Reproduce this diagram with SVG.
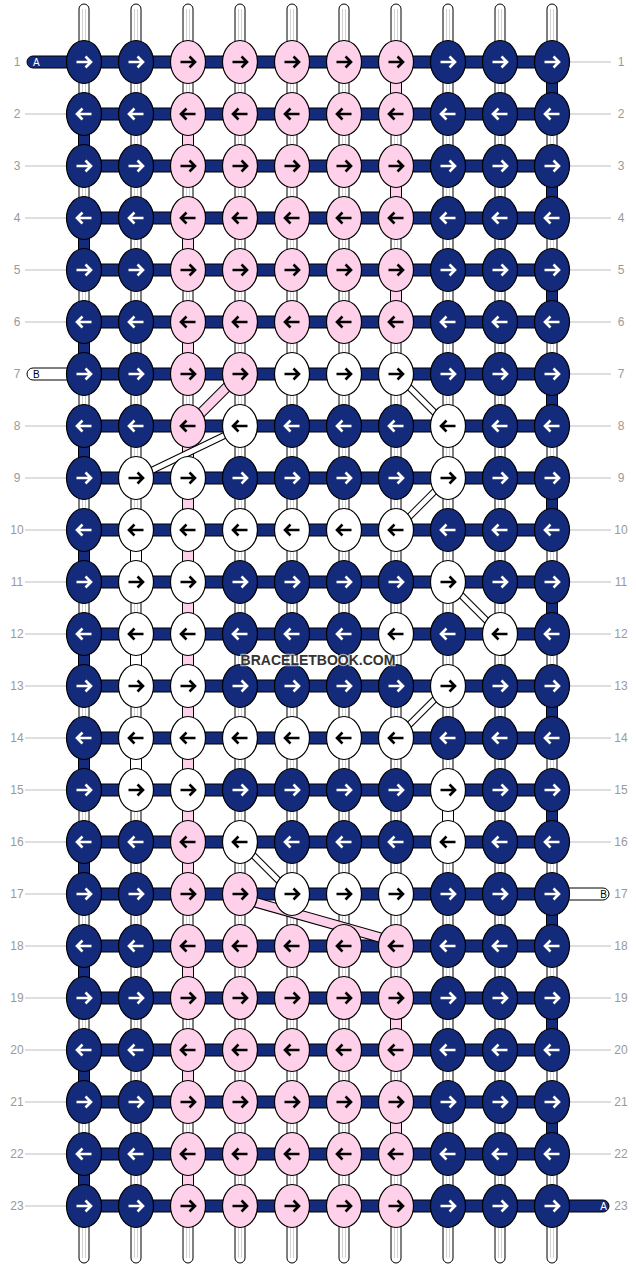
<svg xmlns="http://www.w3.org/2000/svg" width="636" height="1268" viewBox="0 0 636 1268">
<style>
.bg{fill:#fff}
.num{font-family:"Liberation Sans",Arial,sans-serif;font-size:12px;fill:#9a9a9a;text-anchor:middle}
.gl{stroke:#bdbdbd;stroke-width:1}
.warp{fill:#fff;stroke:#000;stroke-width:1}
.stripe{stroke:#d2d2d2;stroke-width:1}
.gn{fill:#142a7a;stroke:#000;stroke-width:1}
.gp{fill:#ffd0e9;stroke:#000;stroke-width:1}
.gw{fill:#fff;stroke:#000;stroke-width:1}
.bar{fill:#142a7a;stroke:#000;stroke-width:1}
.kn{stroke:#000;stroke-width:1.2}
.n{fill:#142a7a}
.p{fill:#ffd0e9}
.w{fill:#fff}
.aw{fill:none;stroke:#fff;stroke-width:2.6}
.ab{fill:none;stroke:#000;stroke-width:2.6}
.dk{stroke:#000;fill:none}
.lbl{font-family:"Liberation Sans",Arial,sans-serif;font-size:10px}
.wm{font-family:"Liberation Sans",Arial,sans-serif;font-size:14px;font-weight:bold;fill:#333;text-anchor:middle;stroke:#fff;stroke-opacity:0.6;stroke-width:2.5;paint-order:stroke;stroke-linejoin:round}
</style>
<defs>
<path id="aR" d="M-7.5,0H6.5M1.5,-5.5L7,0L1.5,5.5"/>
<path id="aL" d="M7.5,0H-6.5M-1.5,-5.5L-7,0L-1.5,5.5"/>
<g id="nR"><ellipse rx="17.5" ry="21.5" class="kn n"/><use href="#aR" class="aw"/></g>
<g id="nL"><ellipse rx="17.5" ry="21.5" class="kn n"/><use href="#aL" class="aw"/></g>
<g id="pR"><ellipse rx="17.5" ry="21.5" class="kn p"/><use href="#aR" class="ab"/></g>
<g id="pL"><ellipse rx="17.5" ry="21.5" class="kn p"/><use href="#aL" class="ab"/></g>
<g id="wR"><ellipse rx="17.5" ry="21.5" class="kn w"/><use href="#aR" class="ab"/></g>
<g id="wL"><ellipse rx="17.5" ry="21.5" class="kn w"/><use href="#aL" class="ab"/></g>
</defs>
<rect class="bg" x="0" y="0" width="636" height="1268"/>

<g id="row-labels">
<g class="gl">
<line x1="25" y1="114" x2="84" y2="114"/><line x1="25" y1="166" x2="84" y2="166"/><line x1="25" y1="218" x2="84" y2="218"/><line x1="25" y1="270" x2="84" y2="270"/><line x1="25" y1="322" x2="84" y2="322"/><line x1="25" y1="426" x2="84" y2="426"/><line x1="25" y1="478" x2="84" y2="478"/><line x1="25" y1="530" x2="84" y2="530"/><line x1="25" y1="582" x2="84" y2="582"/><line x1="25" y1="634" x2="84" y2="634"/><line x1="25" y1="686" x2="84" y2="686"/><line x1="25" y1="738" x2="84" y2="738"/><line x1="25" y1="790" x2="84" y2="790"/><line x1="25" y1="842" x2="84" y2="842"/><line x1="25" y1="894" x2="84" y2="894"/><line x1="25" y1="946" x2="84" y2="946"/><line x1="25" y1="998" x2="84" y2="998"/><line x1="25" y1="1050" x2="84" y2="1050"/><line x1="25" y1="1102" x2="84" y2="1102"/><line x1="25" y1="1154" x2="84" y2="1154"/><line x1="25" y1="1206" x2="84" y2="1206"/>
<line x1="552" y1="62" x2="611" y2="62"/><line x1="552" y1="114" x2="611" y2="114"/><line x1="552" y1="166" x2="611" y2="166"/><line x1="552" y1="218" x2="611" y2="218"/><line x1="552" y1="270" x2="611" y2="270"/><line x1="552" y1="322" x2="611" y2="322"/><line x1="552" y1="374" x2="611" y2="374"/><line x1="552" y1="426" x2="611" y2="426"/><line x1="552" y1="478" x2="611" y2="478"/><line x1="552" y1="530" x2="611" y2="530"/><line x1="552" y1="582" x2="611" y2="582"/><line x1="552" y1="634" x2="611" y2="634"/><line x1="552" y1="686" x2="611" y2="686"/><line x1="552" y1="738" x2="611" y2="738"/><line x1="552" y1="790" x2="611" y2="790"/><line x1="552" y1="842" x2="611" y2="842"/><line x1="552" y1="946" x2="611" y2="946"/><line x1="552" y1="998" x2="611" y2="998"/><line x1="552" y1="1050" x2="611" y2="1050"/><line x1="552" y1="1102" x2="611" y2="1102"/><line x1="552" y1="1154" x2="611" y2="1154"/>
</g>
<g class="num">
<text x="17" y="66.3">1</text><text x="17" y="118.3">2</text><text x="17" y="170.3">3</text><text x="17" y="222.3">4</text><text x="17" y="274.3">5</text><text x="17" y="326.3">6</text><text x="17" y="378.3">7</text><text x="17" y="430.3">8</text><text x="17" y="482.3">9</text><text x="17" y="534.3">10</text><text x="17" y="586.3">11</text><text x="17" y="638.3">12</text><text x="17" y="690.3">13</text><text x="17" y="742.3">14</text><text x="17" y="794.3">15</text><text x="17" y="846.3">16</text><text x="17" y="898.3">17</text><text x="17" y="950.3">18</text><text x="17" y="1002.3">19</text><text x="17" y="1054.3">20</text><text x="17" y="1106.3">21</text><text x="17" y="1158.3">22</text><text x="17" y="1210.3">23</text>
<text x="621" y="66.3">1</text><text x="621" y="118.3">2</text><text x="621" y="170.3">3</text><text x="621" y="222.3">4</text><text x="621" y="274.3">5</text><text x="621" y="326.3">6</text><text x="621" y="378.3">7</text><text x="621" y="430.3">8</text><text x="621" y="482.3">9</text><text x="621" y="534.3">10</text><text x="621" y="586.3">11</text><text x="621" y="638.3">12</text><text x="621" y="690.3">13</text><text x="621" y="742.3">14</text><text x="621" y="794.3">15</text><text x="621" y="846.3">16</text><text x="621" y="898.3">17</text><text x="621" y="950.3">18</text><text x="621" y="1002.3">19</text><text x="621" y="1054.3">20</text><text x="621" y="1106.3">21</text><text x="621" y="1158.3">22</text><text x="621" y="1210.3">23</text>
</g>
</g>

<g id="connectors">
<g id="warp-strings">
<rect class="warp" x="79" y="4" width="10" height="1259" rx="5"/>
<rect class="warp" x="131" y="4" width="10" height="1259" rx="5"/>
<rect class="warp" x="183" y="4" width="10" height="1259" rx="5"/>
<rect class="warp" x="235" y="4" width="10" height="1259" rx="5"/>
<rect class="warp" x="287" y="4" width="10" height="1259" rx="5"/>
<rect class="warp" x="339" y="4" width="10" height="1259" rx="5"/>
<rect class="warp" x="391" y="4" width="10" height="1259" rx="5"/>
<rect class="warp" x="443" y="4" width="10" height="1259" rx="5"/>
<rect class="warp" x="495" y="4" width="10" height="1259" rx="5"/>
<rect class="warp" x="547" y="4" width="10" height="1259" rx="5"/>
<g class="stripe">
<line x1="82.5" y1="9" x2="82.5" y2="1258"/><line x1="85.5" y1="9" x2="85.5" y2="1258"/>
<line x1="134.5" y1="9" x2="134.5" y2="1258"/><line x1="137.5" y1="9" x2="137.5" y2="1258"/>
<line x1="186.5" y1="9" x2="186.5" y2="1258"/><line x1="189.5" y1="9" x2="189.5" y2="1258"/>
<line x1="238.5" y1="9" x2="238.5" y2="1258"/><line x1="241.5" y1="9" x2="241.5" y2="1258"/>
<line x1="290.5" y1="9" x2="290.5" y2="1258"/><line x1="293.5" y1="9" x2="293.5" y2="1258"/>
<line x1="342.5" y1="9" x2="342.5" y2="1258"/><line x1="345.5" y1="9" x2="345.5" y2="1258"/>
<line x1="394.5" y1="9" x2="394.5" y2="1258"/><line x1="397.5" y1="9" x2="397.5" y2="1258"/>
<line x1="446.5" y1="9" x2="446.5" y2="1258"/><line x1="449.5" y1="9" x2="449.5" y2="1258"/>
<line x1="498.5" y1="9" x2="498.5" y2="1258"/><line x1="501.5" y1="9" x2="501.5" y2="1258"/>
<line x1="550.5" y1="9" x2="550.5" y2="1258"/><line x1="553.5" y1="9" x2="553.5" y2="1258"/>
</g>
</g>
<g id="thread-A-turns">
<rect class="gn" x="78.5" y="129" width="11" height="22"/><rect class="gn" x="78.5" y="233" width="11" height="22"/><rect class="gn" x="78.5" y="337" width="11" height="22"/><rect class="gn" x="78.5" y="441" width="11" height="22"/><rect class="gn" x="78.5" y="545" width="11" height="22"/><rect class="gn" x="78.5" y="649" width="11" height="22"/><rect class="gn" x="78.5" y="753" width="11" height="22"/><rect class="gn" x="78.5" y="857" width="11" height="22"/><rect class="gn" x="78.5" y="961" width="11" height="22"/><rect class="gn" x="78.5" y="1065" width="11" height="22"/><rect class="gn" x="78.5" y="1169" width="11" height="22"/>
<rect class="gn" x="546.5" y="77" width="11" height="22"/><rect class="gn" x="546.5" y="181" width="11" height="22"/><rect class="gn" x="546.5" y="285" width="11" height="22"/><rect class="gn" x="546.5" y="389" width="11" height="22"/><rect class="gn" x="546.5" y="493" width="11" height="22"/><rect class="gn" x="546.5" y="597" width="11" height="22"/><rect class="gn" x="546.5" y="701" width="11" height="22"/><rect class="gn" x="546.5" y="805" width="11" height="22"/><rect class="gn" x="546.5" y="909" width="11" height="22"/><rect class="gn" x="546.5" y="1013" width="11" height="22"/><rect class="gn" x="546.5" y="1117" width="11" height="22"/>
</g>
<g id="thread-pink-turns">
<rect class="gp" x="182.5" y="129" width="11" height="22"/><rect class="gp" x="182.5" y="233" width="11" height="22"/><rect class="gp" x="182.5" y="337" width="11" height="22"/><rect class="gp" x="182.5" y="441" width="11" height="438"/><rect class="gp" x="182.5" y="961" width="11" height="22"/><rect class="gp" x="182.5" y="1065" width="11" height="22"/><rect class="gp" x="182.5" y="1169" width="11" height="22"/>
<rect class="gp" x="390.5" y="77" width="11" height="22"/><rect class="gp" x="390.5" y="181" width="11" height="22"/><rect class="gp" x="390.5" y="285" width="11" height="22"/><rect class="gp" x="390.5" y="1013" width="11" height="22"/><rect class="gp" x="390.5" y="1117" width="11" height="22"/>
</g>
<g id="thread-B-turns">
<rect class="gw" x="130.5" y="545" width="11" height="22"/><rect class="gw" x="130.5" y="649" width="11" height="22"/><rect class="gw" x="130.5" y="753" width="11" height="22"/>
<rect class="gw" x="442.5" y="805" width="11" height="22"/>
</g>
<g id="thread-A-rows">
<rect class="bar" x="27" y="56" width="66" height="12" rx="6"/>
<rect class="bar" x="543" y="1200" width="66" height="12" rx="6"/>
<rect class="bar" x="84" y="56" width="468" height="12"/><rect class="bar" x="84" y="108" width="468" height="12"/><rect class="bar" x="84" y="160" width="468" height="12"/><rect class="bar" x="84" y="212" width="468" height="12"/><rect class="bar" x="84" y="264" width="468" height="12"/><rect class="bar" x="84" y="316" width="468" height="12"/><rect class="bar" x="84" y="368" width="468" height="12"/><rect class="bar" x="84" y="420" width="468" height="12"/><rect class="bar" x="84" y="472" width="468" height="12"/><rect class="bar" x="84" y="524" width="468" height="12"/><rect class="bar" x="84" y="576" width="468" height="12"/><rect class="bar" x="84" y="628" width="468" height="12"/><rect class="bar" x="84" y="680" width="468" height="12"/><rect class="bar" x="84" y="732" width="468" height="12"/><rect class="bar" x="84" y="784" width="468" height="12"/><rect class="bar" x="84" y="836" width="468" height="12"/><rect class="bar" x="84" y="888" width="468" height="12"/><rect class="bar" x="84" y="940" width="468" height="12"/><rect class="bar" x="84" y="992" width="468" height="12"/><rect class="bar" x="84" y="1044" width="468" height="12"/><rect class="bar" x="84" y="1096" width="468" height="12"/><rect class="bar" x="84" y="1148" width="468" height="12"/><rect class="bar" x="84" y="1200" width="468" height="12"/>
<text class="lbl" x="33" y="65.6" fill="#fff">A</text>
<text class="lbl" x="607" y="1209.6" fill="#fff" text-anchor="end">A</text>
</g>
<g id="thread-B-ends">
<rect class="gw" x="27" y="368" width="66" height="12" rx="6"/>
<rect class="gw" x="543" y="888" width="66" height="12" rx="6"/>
<text class="lbl" x="33" y="377.6" fill="#000">B</text>
<text class="lbl" x="607" y="897.6" fill="#000" text-anchor="end">B</text>
</g>
<g id="diagonals">
<g class="dk" stroke-width="10.5">
<line x1="240" y1="374" x2="188" y2="426"/>
<line x1="240" y1="898" x2="396" y2="942"/>
</g>
<g fill="none" stroke="#ffd0e9" stroke-width="8.5">
<line x1="240" y1="374" x2="188" y2="426"/>
<line x1="240" y1="898" x2="396" y2="942"/>
</g>
<g class="dk" stroke-width="7">
<line x1="396" y1="374" x2="448" y2="426"/>
<line x1="240" y1="428" x2="136" y2="478"/>
<line x1="448" y1="478" x2="396" y2="530"/>
<line x1="448" y1="582" x2="500" y2="634"/>
<line x1="448" y1="686" x2="396" y2="738"/>
<line x1="240" y1="842" x2="292" y2="894"/>
</g>
<g fill="none" stroke="#fff" stroke-width="5">
<line x1="396" y1="374" x2="448" y2="426"/>
<line x1="240" y1="428" x2="136" y2="478"/>
<line x1="448" y1="478" x2="396" y2="530"/>
<line x1="448" y1="582" x2="500" y2="634"/>
<line x1="448" y1="686" x2="396" y2="738"/>
<line x1="240" y1="842" x2="292" y2="894"/>
</g>
</g>
</g>

<g id="knots">
<g id="k01-01"><use href="#nR" x="84" y="62"/></g><g id="k01-02"><use href="#nR" x="136" y="62"/></g><g id="k01-03"><use href="#pR" x="188" y="62"/></g><g id="k01-04"><use href="#pR" x="240" y="62"/></g><g id="k01-05"><use href="#pR" x="292" y="62"/></g><g id="k01-06"><use href="#pR" x="344" y="62"/></g><g id="k01-07"><use href="#pR" x="396" y="62"/></g><g id="k01-08"><use href="#nR" x="448" y="62"/></g><g id="k01-09"><use href="#nR" x="500" y="62"/></g><g id="k01-10"><use href="#nR" x="552" y="62"/></g>
<g id="k02-01"><use href="#nL" x="84" y="114"/></g><g id="k02-02"><use href="#nL" x="136" y="114"/></g><g id="k02-03"><use href="#pL" x="188" y="114"/></g><g id="k02-04"><use href="#pL" x="240" y="114"/></g><g id="k02-05"><use href="#pL" x="292" y="114"/></g><g id="k02-06"><use href="#pL" x="344" y="114"/></g><g id="k02-07"><use href="#pL" x="396" y="114"/></g><g id="k02-08"><use href="#nL" x="448" y="114"/></g><g id="k02-09"><use href="#nL" x="500" y="114"/></g><g id="k02-10"><use href="#nL" x="552" y="114"/></g>
<g id="k03-01"><use href="#nR" x="84" y="166"/></g><g id="k03-02"><use href="#nR" x="136" y="166"/></g><g id="k03-03"><use href="#pR" x="188" y="166"/></g><g id="k03-04"><use href="#pR" x="240" y="166"/></g><g id="k03-05"><use href="#pR" x="292" y="166"/></g><g id="k03-06"><use href="#pR" x="344" y="166"/></g><g id="k03-07"><use href="#pR" x="396" y="166"/></g><g id="k03-08"><use href="#nR" x="448" y="166"/></g><g id="k03-09"><use href="#nR" x="500" y="166"/></g><g id="k03-10"><use href="#nR" x="552" y="166"/></g>
<g id="k04-01"><use href="#nL" x="84" y="218"/></g><g id="k04-02"><use href="#nL" x="136" y="218"/></g><g id="k04-03"><use href="#pL" x="188" y="218"/></g><g id="k04-04"><use href="#pL" x="240" y="218"/></g><g id="k04-05"><use href="#pL" x="292" y="218"/></g><g id="k04-06"><use href="#pL" x="344" y="218"/></g><g id="k04-07"><use href="#pL" x="396" y="218"/></g><g id="k04-08"><use href="#nL" x="448" y="218"/></g><g id="k04-09"><use href="#nL" x="500" y="218"/></g><g id="k04-10"><use href="#nL" x="552" y="218"/></g>
<g id="k05-01"><use href="#nR" x="84" y="270"/></g><g id="k05-02"><use href="#nR" x="136" y="270"/></g><g id="k05-03"><use href="#pR" x="188" y="270"/></g><g id="k05-04"><use href="#pR" x="240" y="270"/></g><g id="k05-05"><use href="#pR" x="292" y="270"/></g><g id="k05-06"><use href="#pR" x="344" y="270"/></g><g id="k05-07"><use href="#pR" x="396" y="270"/></g><g id="k05-08"><use href="#nR" x="448" y="270"/></g><g id="k05-09"><use href="#nR" x="500" y="270"/></g><g id="k05-10"><use href="#nR" x="552" y="270"/></g>
<g id="k06-01"><use href="#nL" x="84" y="322"/></g><g id="k06-02"><use href="#nL" x="136" y="322"/></g><g id="k06-03"><use href="#pL" x="188" y="322"/></g><g id="k06-04"><use href="#pL" x="240" y="322"/></g><g id="k06-05"><use href="#pL" x="292" y="322"/></g><g id="k06-06"><use href="#pL" x="344" y="322"/></g><g id="k06-07"><use href="#pL" x="396" y="322"/></g><g id="k06-08"><use href="#nL" x="448" y="322"/></g><g id="k06-09"><use href="#nL" x="500" y="322"/></g><g id="k06-10"><use href="#nL" x="552" y="322"/></g>
<g id="k07-01"><use href="#nR" x="84" y="374"/></g><g id="k07-02"><use href="#nR" x="136" y="374"/></g><g id="k07-03"><use href="#pR" x="188" y="374"/></g><g id="k07-04"><use href="#pR" x="240" y="374"/></g><g id="k07-05"><use href="#wR" x="292" y="374"/></g><g id="k07-06"><use href="#wR" x="344" y="374"/></g><g id="k07-07"><use href="#wR" x="396" y="374"/></g><g id="k07-08"><use href="#nR" x="448" y="374"/></g><g id="k07-09"><use href="#nR" x="500" y="374"/></g><g id="k07-10"><use href="#nR" x="552" y="374"/></g>
<g id="k08-01"><use href="#nL" x="84" y="426"/></g><g id="k08-02"><use href="#nL" x="136" y="426"/></g><g id="k08-03"><use href="#pL" x="188" y="426"/></g><g id="k08-04"><use href="#wL" x="240" y="426"/></g><g id="k08-05"><use href="#nL" x="292" y="426"/></g><g id="k08-06"><use href="#nL" x="344" y="426"/></g><g id="k08-07"><use href="#nL" x="396" y="426"/></g><g id="k08-08"><use href="#wL" x="448" y="426"/></g><g id="k08-09"><use href="#nL" x="500" y="426"/></g><g id="k08-10"><use href="#nL" x="552" y="426"/></g>
<g id="k09-01"><use href="#nR" x="84" y="478"/></g><g id="k09-02"><use href="#wR" x="136" y="478"/></g><g id="k09-03"><use href="#wR" x="188" y="478"/></g><g id="k09-04"><use href="#nR" x="240" y="478"/></g><g id="k09-05"><use href="#nR" x="292" y="478"/></g><g id="k09-06"><use href="#nR" x="344" y="478"/></g><g id="k09-07"><use href="#nR" x="396" y="478"/></g><g id="k09-08"><use href="#wR" x="448" y="478"/></g><g id="k09-09"><use href="#nR" x="500" y="478"/></g><g id="k09-10"><use href="#nR" x="552" y="478"/></g>
<g id="k10-01"><use href="#nL" x="84" y="530"/></g><g id="k10-02"><use href="#wL" x="136" y="530"/></g><g id="k10-03"><use href="#wL" x="188" y="530"/></g><g id="k10-04"><use href="#wL" x="240" y="530"/></g><g id="k10-05"><use href="#wL" x="292" y="530"/></g><g id="k10-06"><use href="#wL" x="344" y="530"/></g><g id="k10-07"><use href="#wL" x="396" y="530"/></g><g id="k10-08"><use href="#nL" x="448" y="530"/></g><g id="k10-09"><use href="#nL" x="500" y="530"/></g><g id="k10-10"><use href="#nL" x="552" y="530"/></g>
<g id="k11-01"><use href="#nR" x="84" y="582"/></g><g id="k11-02"><use href="#wR" x="136" y="582"/></g><g id="k11-03"><use href="#wR" x="188" y="582"/></g><g id="k11-04"><use href="#nR" x="240" y="582"/></g><g id="k11-05"><use href="#nR" x="292" y="582"/></g><g id="k11-06"><use href="#nR" x="344" y="582"/></g><g id="k11-07"><use href="#nR" x="396" y="582"/></g><g id="k11-08"><use href="#wR" x="448" y="582"/></g><g id="k11-09"><use href="#nR" x="500" y="582"/></g><g id="k11-10"><use href="#nR" x="552" y="582"/></g>
<g id="k12-01"><use href="#nL" x="84" y="634"/></g><g id="k12-02"><use href="#wL" x="136" y="634"/></g><g id="k12-03"><use href="#wL" x="188" y="634"/></g><g id="k12-04"><use href="#nL" x="240" y="634"/></g><g id="k12-05"><use href="#nL" x="292" y="634"/></g><g id="k12-06"><use href="#nL" x="344" y="634"/></g><g id="k12-07"><use href="#wL" x="396" y="634"/></g><g id="k12-08"><use href="#nL" x="448" y="634"/></g><g id="k12-09"><use href="#wL" x="500" y="634"/></g><g id="k12-10"><use href="#nL" x="552" y="634"/></g>
<g id="k13-01"><use href="#nR" x="84" y="686"/></g><g id="k13-02"><use href="#wR" x="136" y="686"/></g><g id="k13-03"><use href="#wR" x="188" y="686"/></g><g id="k13-04"><use href="#nR" x="240" y="686"/></g><g id="k13-05"><use href="#nR" x="292" y="686"/></g><g id="k13-06"><use href="#nR" x="344" y="686"/></g><g id="k13-07"><use href="#nR" x="396" y="686"/></g><g id="k13-08"><use href="#wR" x="448" y="686"/></g><g id="k13-09"><use href="#nR" x="500" y="686"/></g><g id="k13-10"><use href="#nR" x="552" y="686"/></g>
<g id="k14-01"><use href="#nL" x="84" y="738"/></g><g id="k14-02"><use href="#wL" x="136" y="738"/></g><g id="k14-03"><use href="#wL" x="188" y="738"/></g><g id="k14-04"><use href="#wL" x="240" y="738"/></g><g id="k14-05"><use href="#wL" x="292" y="738"/></g><g id="k14-06"><use href="#wL" x="344" y="738"/></g><g id="k14-07"><use href="#wL" x="396" y="738"/></g><g id="k14-08"><use href="#nL" x="448" y="738"/></g><g id="k14-09"><use href="#nL" x="500" y="738"/></g><g id="k14-10"><use href="#nL" x="552" y="738"/></g>
<g id="k15-01"><use href="#nR" x="84" y="790"/></g><g id="k15-02"><use href="#wR" x="136" y="790"/></g><g id="k15-03"><use href="#wR" x="188" y="790"/></g><g id="k15-04"><use href="#nR" x="240" y="790"/></g><g id="k15-05"><use href="#nR" x="292" y="790"/></g><g id="k15-06"><use href="#nR" x="344" y="790"/></g><g id="k15-07"><use href="#nR" x="396" y="790"/></g><g id="k15-08"><use href="#wR" x="448" y="790"/></g><g id="k15-09"><use href="#nR" x="500" y="790"/></g><g id="k15-10"><use href="#nR" x="552" y="790"/></g>
<g id="k16-01"><use href="#nL" x="84" y="842"/></g><g id="k16-02"><use href="#nL" x="136" y="842"/></g><g id="k16-03"><use href="#pL" x="188" y="842"/></g><g id="k16-04"><use href="#wL" x="240" y="842"/></g><g id="k16-05"><use href="#nL" x="292" y="842"/></g><g id="k16-06"><use href="#nL" x="344" y="842"/></g><g id="k16-07"><use href="#nL" x="396" y="842"/></g><g id="k16-08"><use href="#wL" x="448" y="842"/></g><g id="k16-09"><use href="#nL" x="500" y="842"/></g><g id="k16-10"><use href="#nL" x="552" y="842"/></g>
<g id="k17-01"><use href="#nR" x="84" y="894"/></g><g id="k17-02"><use href="#nR" x="136" y="894"/></g><g id="k17-03"><use href="#pR" x="188" y="894"/></g><g id="k17-04"><use href="#pR" x="240" y="894"/></g><g id="k17-05"><use href="#wR" x="292" y="894"/></g><g id="k17-06"><use href="#wR" x="344" y="894"/></g><g id="k17-07"><use href="#wR" x="396" y="894"/></g><g id="k17-08"><use href="#nR" x="448" y="894"/></g><g id="k17-09"><use href="#nR" x="500" y="894"/></g><g id="k17-10"><use href="#nR" x="552" y="894"/></g>
<g id="k18-01"><use href="#nL" x="84" y="946"/></g><g id="k18-02"><use href="#nL" x="136" y="946"/></g><g id="k18-03"><use href="#pL" x="188" y="946"/></g><g id="k18-04"><use href="#pL" x="240" y="946"/></g><g id="k18-05"><use href="#pL" x="292" y="946"/></g><g id="k18-06"><use href="#pL" x="344" y="946"/></g><g id="k18-07"><use href="#pL" x="396" y="946"/></g><g id="k18-08"><use href="#nL" x="448" y="946"/></g><g id="k18-09"><use href="#nL" x="500" y="946"/></g><g id="k18-10"><use href="#nL" x="552" y="946"/></g>
<g id="k19-01"><use href="#nR" x="84" y="998"/></g><g id="k19-02"><use href="#nR" x="136" y="998"/></g><g id="k19-03"><use href="#pR" x="188" y="998"/></g><g id="k19-04"><use href="#pR" x="240" y="998"/></g><g id="k19-05"><use href="#pR" x="292" y="998"/></g><g id="k19-06"><use href="#pR" x="344" y="998"/></g><g id="k19-07"><use href="#pR" x="396" y="998"/></g><g id="k19-08"><use href="#nR" x="448" y="998"/></g><g id="k19-09"><use href="#nR" x="500" y="998"/></g><g id="k19-10"><use href="#nR" x="552" y="998"/></g>
<g id="k20-01"><use href="#nL" x="84" y="1050"/></g><g id="k20-02"><use href="#nL" x="136" y="1050"/></g><g id="k20-03"><use href="#pL" x="188" y="1050"/></g><g id="k20-04"><use href="#pL" x="240" y="1050"/></g><g id="k20-05"><use href="#pL" x="292" y="1050"/></g><g id="k20-06"><use href="#pL" x="344" y="1050"/></g><g id="k20-07"><use href="#pL" x="396" y="1050"/></g><g id="k20-08"><use href="#nL" x="448" y="1050"/></g><g id="k20-09"><use href="#nL" x="500" y="1050"/></g><g id="k20-10"><use href="#nL" x="552" y="1050"/></g>
<g id="k21-01"><use href="#nR" x="84" y="1102"/></g><g id="k21-02"><use href="#nR" x="136" y="1102"/></g><g id="k21-03"><use href="#pR" x="188" y="1102"/></g><g id="k21-04"><use href="#pR" x="240" y="1102"/></g><g id="k21-05"><use href="#pR" x="292" y="1102"/></g><g id="k21-06"><use href="#pR" x="344" y="1102"/></g><g id="k21-07"><use href="#pR" x="396" y="1102"/></g><g id="k21-08"><use href="#nR" x="448" y="1102"/></g><g id="k21-09"><use href="#nR" x="500" y="1102"/></g><g id="k21-10"><use href="#nR" x="552" y="1102"/></g>
<g id="k22-01"><use href="#nL" x="84" y="1154"/></g><g id="k22-02"><use href="#nL" x="136" y="1154"/></g><g id="k22-03"><use href="#pL" x="188" y="1154"/></g><g id="k22-04"><use href="#pL" x="240" y="1154"/></g><g id="k22-05"><use href="#pL" x="292" y="1154"/></g><g id="k22-06"><use href="#pL" x="344" y="1154"/></g><g id="k22-07"><use href="#pL" x="396" y="1154"/></g><g id="k22-08"><use href="#nL" x="448" y="1154"/></g><g id="k22-09"><use href="#nL" x="500" y="1154"/></g><g id="k22-10"><use href="#nL" x="552" y="1154"/></g>
<g id="k23-01"><use href="#nR" x="84" y="1206"/></g><g id="k23-02"><use href="#nR" x="136" y="1206"/></g><g id="k23-03"><use href="#pR" x="188" y="1206"/></g><g id="k23-04"><use href="#pR" x="240" y="1206"/></g><g id="k23-05"><use href="#pR" x="292" y="1206"/></g><g id="k23-06"><use href="#pR" x="344" y="1206"/></g><g id="k23-07"><use href="#pR" x="396" y="1206"/></g><g id="k23-08"><use href="#nR" x="448" y="1206"/></g><g id="k23-09"><use href="#nR" x="500" y="1206"/></g><g id="k23-10"><use href="#nR" x="552" y="1206"/></g>
</g>

<g id="watermark">
<text class="wm" x="318" y="665">BRACELETBOOK.COM</text>
</g>
</svg>
